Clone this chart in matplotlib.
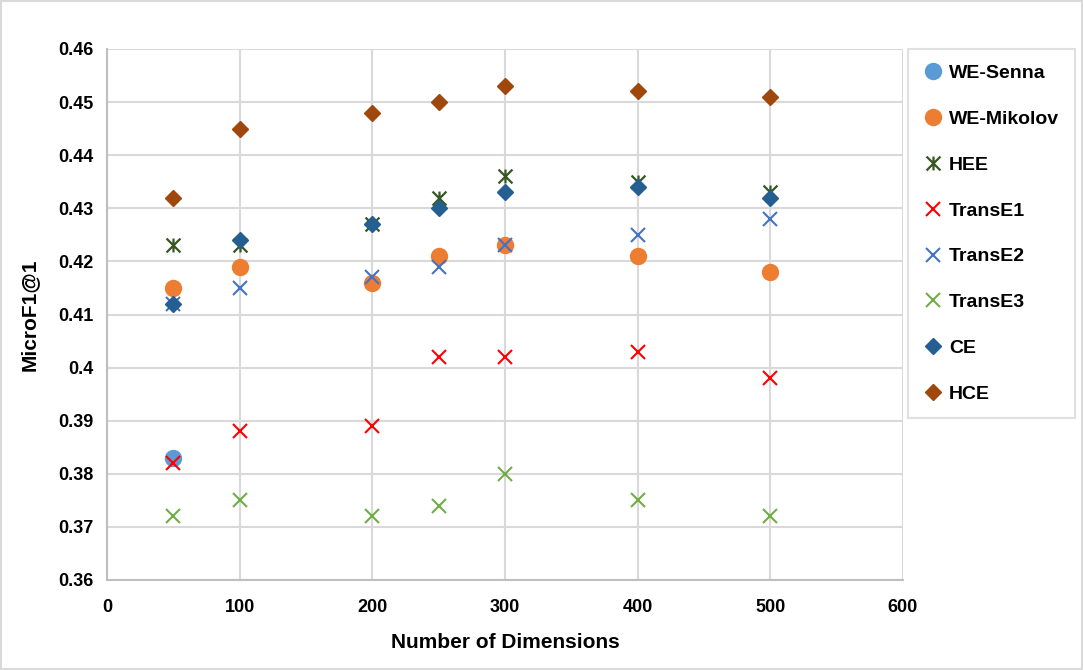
import matplotlib
matplotlib.use('Agg')
import matplotlib.pyplot as plt
from matplotlib.path import Path

# data
dims = [50, 100, 200, 250, 300, 400, 500]
we_senna_dims = [50]
we_senna = [0.383]
we_mikolov = [0.415, 0.419, 0.416, 0.421, 0.423, 0.421, 0.418]
hee = [0.423, 0.423, 0.427, 0.432, 0.436, 0.435, 0.433]
transe1 = [0.382, 0.388, 0.389, 0.402, 0.402, 0.403, 0.398]
transe2 = [0.412, 0.415, 0.417, 0.419, 0.423, 0.425, 0.428]
transe3 = [0.372, 0.375, 0.372, 0.374, 0.380, 0.375, 0.372]
ce = [0.412, 0.424, 0.427, 0.430, 0.433, 0.434, 0.432]
hce = [0.432, 0.445, 0.448, 0.450, 0.453, 0.452, 0.451]

x_ticks = [0, 100, 200, 300, 400, 500, 600]
y_ticks = [0.36, 0.37, 0.38, 0.39, 0.40, 0.41, 0.42, 0.43, 0.44, 0.45, 0.46]

plt.rcParams['font.family'] = ['Liberation Sans', 'DejaVu Sans']
plt.rcParams['font.weight'] = 'bold'

# excel style asterisk: x with a vertical bar
star = Path([(-1, -1), (1, 1), (-1, 1), (1, -1), (0, -1), (0, 1)],
            [Path.MOVETO, Path.LINETO, Path.MOVETO, Path.LINETO, Path.MOVETO, Path.LINETO])

fig = plt.figure(figsize=(10.83, 6.70), dpi=100)
ax = fig.add_axes([107 / 1083, 90 / 670, 796 / 1083, 531 / 670])

ax.plot(we_senna_dims, we_senna, 'o', ms=11.5, color='#5B9BD5', label='WE-Senna', zorder=3)
ax.plot(dims, we_mikolov, 'o', ms=11.5, color='#ED7D31', label='WE-Mikolov', zorder=3)
ax.plot(dims, hee, ls='none', marker=star, ms=10, mew=1.6, color='#375623', label='HEE', zorder=3)
ax.plot(dims, transe1, 'x', ms=10, mew=1.5, color='#FF0000', label='TransE1', zorder=4)
ax.plot(dims, transe2, 'x', ms=10, mew=1.5, color='#4472C4', label='TransE2', zorder=4)
ax.plot(dims, transe3, 'x', ms=10, mew=1.5, color='#70AD47', label='TransE3', zorder=4)
ax.plot(dims, ce, 'D', ms=8.5, color='#255E91', label='CE', zorder=5)
ax.plot(dims, hce, 'D', ms=8.5, color='#9E480E', label='HCE', zorder=5)

ax.set_xlim(0, 600)
ax.set_ylim(0.36, 0.46)
ax.set_xticks(x_ticks)
ax.set_yticks(y_ticks)
ax.set_yticklabels(['%g' % v for v in y_ticks])
ax.tick_params(length=0, labelsize=13, pad=10)
ax.tick_params(axis='x', pad=14)
ax.grid(True, color='#D9D9D9', lw=1.5)
ax.set_axisbelow(True)
for s in ['top', 'right']:
    ax.spines[s].set_visible(False)
for s in ['left', 'bottom']:
    ax.spines[s].set_color('#BFBFBF')
    ax.spines[s].set_linewidth(1.5)

ax.set_xlabel('Number of Dimensions', fontsize=15, fontweight='bold', labelpad=12)
ax.set_ylabel('MicroF1@1', fontsize=15, fontweight='bold', labelpad=14)

leg = fig.legend(loc='upper left', bbox_to_anchor=(908 / 1083, 1 - 49 / 670),
                 fontsize=14, frameon=True, fancybox=False, labelspacing=1.45,
                 handlelength=1.0, handletextpad=0.3, borderpad=0.8, borderaxespad=0)
leg.get_frame().set_edgecolor('#D9D9D9')
leg.get_frame().set_linewidth(1.5)
for t in leg.get_texts():
    t.set_fontweight('bold')

# outer border
fig.patches.append(plt.Rectangle((0.001, 0.001), 0.998, 0.998, transform=fig.transFigure,
                                 fill=False, edgecolor='#D9D9D9', lw=1.5))

fig.savefig('out.png', dpi=100)
